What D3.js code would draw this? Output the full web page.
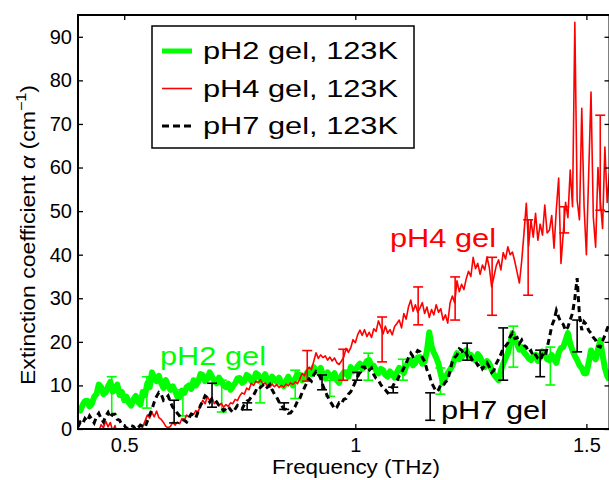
<!DOCTYPE html>
<html><head><meta charset="utf-8">
<script src="https://cdn.jsdelivr.net/npm/d3@7"></script>
<style>
body{margin:0;background:#fff}
text{font-family:"Liberation Sans",Arial,Helvetica,sans-serif}
</style>
</head><body>
<svg id="c" width="609" height="480"></svg>
<script>
// ---------- data ----------
const freqStart = 0.40;   // THz, first sample
const freqStep = 0.005;   // THz, sample spacing of every trace

// pH4 gel, 123K (red)  0.400 ... 1.550
const ph4 = [
 -3,-2,-3,-2,-4,-2,-3,-1,-2,-0.5,
 1,0.3,1.8,0.5,1.5,-0.5,0.8,-1,-2,-3,
 -2,-3,-2.5,-3,-2,-2.5,-1,-1.5,0.5,1.8,
 3.2,2.5,3.8,2.8,4.1,2.6,2.2,1.5,0.6,0.3,
 0.6,1.5,0.9,1.6,1.2,2.4,2.0,3.2,2.8,3.6,
 3.3,4.2,3.9,5.5,6.6,5.8,7.4,6.5,7.2,5.8,
 6.2,5.3,5.9,5.0,5.6,5.2,6.0,5.8,6.8,6.5,
 7.6,8.3,8.0,9.4,9.0,10.5,10.0,11.0,10.6,11.3,
 10.2,10.6,9.8,9.6,10.3,9.7,10.2,9.5,10.0,9.6,
 10.3,9.9,10.6,10.2,10.8,10.4,11.5,12.8,12.2,13.5,
 14.2,13.6,15.5,17.5,16.2,17.0,16.4,16.8,15.8,16.5,
 15.6,16.3,15.2,14.8,15.6,16.5,18.5,17.6,18.6,20.5,
 19.8,21.6,22.7,21.5,22.8,21.2,22.2,21.0,23.0,22.4,
 24.8,23.5,21.8,23.6,22.0,22.8,21.6,23.5,24.2,25.0,
 23.2,26.5,25.2,28.0,29.6,27.0,28.5,26.8,27.8,29.0,
 26.5,28.0,25.6,27.4,26.2,28.5,26.8,27.6,25.0,26.2,
 24.3,28.9,30.5,29.0,34.0,31.5,33.2,32.0,34.5,36.2,
 35.0,39.4,36.8,38.0,35.5,37.6,36.5,39.5,37.0,32.6,
 35.0,37.5,38.8,36.5,40.5,39.0,41.8,40.0,40.6,38.5,
 36.0,33.5,38.5,45.0,51.8,42.0,48.0,44.0,49.5,43.3,
 47.0,44.5,51.4,45.0,45.6,49.0,41.5,50.5,57.6,38.0,
 45.0,52.0,48.5,59.4,51.0,93.3,52.5,48.0,73.6,51.0,
 40.0,58.7,77.3,48.6,41.7,60.0,52.5,46.0,64.7,52.0,
 58.7
];

// pH2 gel, 123K (green)  0.400 ... 1.550
const ph2 = [
 4.6,4.2,5.5,6.4,6.5,5.2,5.8,7.4,8.0,10.2,
 9.6,8.0,8.4,9.8,10.8,8.6,9.0,10.2,7.8,8.5,
 6.6,7.4,6.0,5.4,6.8,7.6,6.2,5.6,8.5,7.8,
 10.5,9.6,13.0,11.6,11.0,12.2,10.5,9.4,11.2,10.0,
 9.0,9.8,8.8,7.4,7.3,8.8,8.3,9.6,10.0,9.2,
 11.2,10.0,10.8,12.6,12.4,11.0,11.5,13.0,12.0,11.0,
 10.5,11.8,11.0,10.0,9.6,10.4,9.0,9.8,10.5,11.6,
 11.7,10.6,11.0,12.4,12.0,11.0,11.2,12.8,12.4,11.4,
 11.5,12.6,11.2,10.4,12.0,11.4,10.8,11.8,10.5,9.8,
 11.0,12.0,10.8,10.0,11.6,12.6,12.4,11.2,11.5,12.8,
 13.5,12.6,14.2,13.4,13.0,14.0,12.4,11.6,13.0,12.2,
 11.8,12.8,11.2,10.6,12.2,13.0,13.0,12.0,14.2,13.2,
 13.5,14.4,15.0,13.8,14.6,15.6,15.8,14.6,14.5,13.4,
 12.8,13.8,13.5,12.4,12.0,13.2,12.5,11.8,13.0,14.0,
 13.5,12.8,14.5,15.4,15.8,14.6,15.2,16.4,16.5,15.0,
 15.5,18.0,22.2,19.0,17.5,16.4,15.0,12.6,10.5,11.8,
 12.8,13.6,14.5,16.2,17.4,16.0,16.5,17.6,18.1,16.8,
 17.0,16.0,15.8,17.2,16.5,15.2,14.2,15.6,15.0,13.6,
 12.5,11.8,11.2,13.4,15.0,16.2,17.4,19.5,22.0,20.6,
 19.5,18.2,18.8,17.6,17.0,16.2,15.8,16.6,17.0,15.6,
 16.5,17.8,17.2,16.0,15.8,17.0,16.0,15.2,17.5,18.6,
 18.8,20.4,22.0,19.6,18.0,16.8,15.8,14.6,14.0,12.8,
 12.8,15.2,18.0,17.0,16.0,18.2,20.4,17.0,14.0,12.2,
 11.2
];

// pH7 gel, 123K (black dashed)  0.400 ... 1.550
const ph7 = [
 0.5,1.6,1.2,2.4,1.8,3.0,2.2,1.4,2.8,3.6,
 2.4,1.6,3.0,3.8,2.6,3.4,3.4,2.2,2.0,1.0,
 0.8,0.2,0.2,0.8,0.6,-0.2,0.3,0.9,0.6,0.4,
 1.8,3.2,4.5,6.2,7.5,8.4,8.0,6.6,7.0,7.6,
 6.2,5.0,4.5,3.6,3.0,2.2,2.0,1.6,2.5,3.4,
 3.2,2.6,4.0,5.4,6.4,7.6,7.2,6.2,7.0,6.8,
 6.2,5.4,5.0,4.2,4.6,5.2,4.4,3.8,4.6,5.4,
 5.0,4.6,5.6,6.4,6.6,7.4,7.8,8.8,8.6,9.6,
 10.0,9.2,9.6,10.2,9.0,8.0,7.3,6.2,5.5,4.6,
 4.5,3.6,3.7,4.4,5.2,6.4,7.0,8.4,9.5,10.6,
 11.5,11.0,12.4,13.2,12.8,11.6,10.0,8.6,7.5,6.4,
 5.6,4.6,5.0,6.0,5.8,6.8,7.0,8.0,8.5,9.6,
 10.8,12.0,13.0,14.2,14.2,13.2,13.5,14.0,12.5,11.6,
 11.2,10.2,9.5,9.0,8.3,8.8,9.6,10.6,11.0,12.2,
 13.0,14.0,15.0,16.4,17.4,16.6,17.0,18.0,17.7,16.4,
 15.5,13.6,12.5,10.6,9.6,8.6,9.0,10.2,10.0,10.8,
 11.2,13.4,15.5,16.4,17.0,18.4,18.1,17.0,17.5,16.0,
 16.5,15.4,15.5,14.6,15.0,13.8,14.5,15.2,14.2,13.0,
 13.5,15.0,16.0,17.2,18.5,19.0,19.7,21.2,22.0,20.8,
 21.0,19.6,20.4,19.2,18.8,17.6,18.0,16.6,17.0,16.2,
 15.8,17.0,16.5,18.6,21.0,23.6,25.0,27.2,25.7,24.4,
 24.0,22.6,23.4,25.0,26.6,30.0,34.6,26.0,22.7,24.6,
 24.0,22.6,22.0,21.0,20.4,19.0,18.8,20.2,21.5,23.0,
 24.3
];

// error bars (frequency, lower, upper)
const ph2ErrFreq = [0.473,0.549,0.627,0.711,0.794,0.870,0.945,1.028,1.103,1.184,1.342,1.422];
const ph2ErrLo   = [3.3,4.8,3.0,3.9,6.0,7.0,7.5,11.2,11.2,8.0,14.2,10.1];
const ph2ErrHi   = [12,12,9,11.2,10.8,13.5,11.2,17.4,16,14,23.6,18.8];

const ph4ErrFreq = [0.896,0.974,1.058,1.136,1.216,1.296,1.374,1.452,1.530];
const ph4ErrLo   = [11,11.2,15.4,23.9,25,26.1,30.7,45,50.2];
const ph4ErrHi   = [18,18.3,25.7,32.6,34.9,39.4,48,51,72];

const ph7ErrFreq = [0.608,0.690,0.766,0.846,0.928,1.004,1.082,1.162,1.242,1.320,1.400,1.480];
const ph7ErrLo   = [1.4,5,4.4,4.5,9,11.2,8.3,2,15.8,11.2,12,17.7];
const ph7ErrHi   = [6.6,10.5,6,6,12.4,13,9.6,8.3,19.7,23.2,18.1,25];

const xTicks = [0.5, 1, 1.5];
const yTicks = [0,10,20,30,40,50,60,70,80,90];
const legendLabels = ["pH2 gel, 123K","pH4 gel, 123K","pH7 gel, 123K"];
const annotationLabels = ["pH2 gel","pH4 gel","pH7 gel"];

// ---------- layout ----------
const L = 78, R = 609.5, T = 15, B = 429;
const svg = d3.select("#c");
const x = d3.scaleLinear().domain([0.40, 1.55]).range([L, R]);
const y = d3.scaleLinear().domain([0, 95]).range([B, T]);

const GREEN = "#00ff00", RED = "#ff0000", BLACK = "#000000";

svg.append("defs").append("clipPath").attr("id","clip")
  .append("rect").attr("x",L).attr("y",T).attr("width",R-L).attr("height",B-T);

const plot = svg.append("g").attr("clip-path","url(#clip)");

const mk = arr => arr.map((v,i)=>({f: freqStart + i*freqStep, v}));
const line = d3.line().x(d=>x(d.f)).y(d=>y(d.v));

function errBars(fr, lo, hi, color){
  const g = plot.append("g").attr("stroke",color).attr("stroke-width",1.6).attr("fill","none");
  fr.forEach((f,i)=>{
    const cx = x(f);
    g.append("line").attr("x1",cx).attr("x2",cx).attr("y1",y(lo[i])).attr("y2",y(hi[i]));
    g.append("line").attr("x1",cx-5).attr("x2",cx+5).attr("y1",y(lo[i])).attr("y2",y(lo[i]));
    g.append("line").attr("x1",cx-5).attr("x2",cx+5).attr("y1",y(hi[i])).attr("y2",y(hi[i]));
  });
}

// green (thick)
plot.append("path").datum(mk(ph2)).attr("d", line)
  .attr("fill","none").attr("stroke",GREEN).attr("stroke-width",6).attr("stroke-linejoin","round");
errBars(ph2ErrFreq, ph2ErrLo, ph2ErrHi, GREEN);
// red (thin)
plot.append("path").datum(mk(ph4)).attr("d", line)
  .attr("fill","none").attr("stroke",RED).attr("stroke-width",1.6).attr("stroke-linejoin","round");
errBars(ph4ErrFreq, ph4ErrLo, ph4ErrHi, RED);
// black dashed
plot.append("path").datum(mk(ph7)).attr("d", line)
  .attr("fill","none").attr("stroke",BLACK).attr("stroke-width",3).attr("stroke-dasharray","6,4");
errBars(ph7ErrFreq, ph7ErrLo, ph7ErrHi, BLACK);

// ---------- axes ----------
const axB = svg.append("g").attr("transform",`translate(0,${B})`)
  .call(d3.axisBottom(x).tickValues(xTicks).tickFormat(d3.format("")).tickSizeInner(-5).tickSizeOuter(0).tickPadding(9));
const axL = svg.append("g").attr("transform",`translate(${L},0)`)
  .call(d3.axisLeft(y).tickValues(yTicks).tickSizeInner(-5).tickSizeOuter(0).tickPadding(6));
const axT = svg.append("g").attr("transform",`translate(0,${T})`)
  .call(d3.axisTop(x).tickValues(xTicks).tickFormat("").tickSizeInner(-5).tickSizeOuter(0));
const axR = svg.append("g").attr("transform",`translate(${R},0)`)
  .call(d3.axisRight(y).tickValues(yTicks).tickFormat("").tickSizeInner(-5).tickSizeOuter(0));
[axB,axL,axT,axR].forEach(a=>{
  a.select(".domain").remove();
  a.selectAll(".tick line").attr("stroke","#000").attr("stroke-width",1.3);
  a.selectAll("text").attr("font-size",20).attr("fill","#000")
    .style("font-family",'"Liberation Sans",Arial,sans-serif');
});
// frame
svg.append("rect").attr("x",L).attr("y",T).attr("width",R-L).attr("height",B-T)
  .attr("fill","none").attr("stroke","#000").attr("stroke-width",2);

// axis titles
svg.append("text").attr("x",272).attr("y",474).attr("font-size",20)
  .attr("textLength",168).attr("lengthAdjust","spacingAndGlyphs")
  .text("Frequency (THz)");
const yl = svg.append("text").attr("transform","translate(35,385) rotate(-90)")
  .attr("font-size",20).attr("textLength",300).attr("lengthAdjust","spacingAndGlyphs");
yl.append("tspan").text("Extinction coefficient ");
yl.append("tspan").attr("font-style","italic").text("α");
yl.append("tspan").text(" (cm");
yl.append("tspan").attr("font-size",14).attr("dy",-9).text("−1");
yl.append("tspan").attr("dy",9).text(")");

// annotations
const annPos = [{c:GREEN,x:160,y:365},{c:RED,x:390,y:247},{c:BLACK,x:441,y:419}];
annotationLabels.forEach((t,i)=>svg.append("text").attr("x",annPos[i].x).attr("y",annPos[i].y)
  .attr("fill",annPos[i].c).attr("font-size",25).attr("textLength",106)
  .attr("lengthAdjust","spacingAndGlyphs").text(t));

// ---------- legend ----------
const lg = svg.append("g");
lg.append("rect").attr("x",152).attr("y",26).attr("width",262).attr("height",122)
  .attr("fill","#fff").attr("stroke","#000").attr("stroke-width",1.5);
const rowsY = [51, 88.5, 126];
const styles = [
  {c:GREEN, w:5, d:null},
  {c:RED, w:1.6, d:null},
  {c:BLACK, w:3, d:"7,4"}
];
legendLabels.forEach((lab,i)=>{
  const ln = lg.append("line").attr("x1",162).attr("x2",192).attr("y1",rowsY[i]).attr("y2",rowsY[i])
    .attr("stroke",styles[i].c).attr("stroke-width",styles[i].w);
  if(styles[i].d) ln.attr("stroke-dasharray",styles[i].d);
  lg.append("text").attr("x",203).attr("y",rowsY[i]+8).attr("font-size",24)
    .attr("textLength",195).attr("lengthAdjust","spacingAndGlyphs").text(lab);
});
</script>
</body></html>
